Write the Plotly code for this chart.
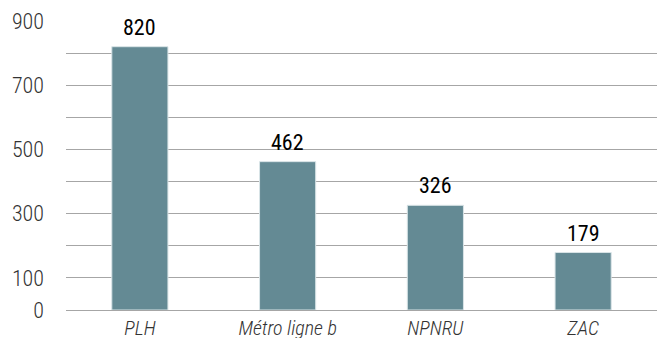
import plotly.graph_objects as go

categories = ["PLH", "Métro ligne b", "NPNRU", "ZAC"]
values = [820, 462, 326, 179]
grid_vals = [0, 100, 200, 300, 400, 500, 600, 700, 800, 900]
grid_text = ["0", "100", "", "300", "", "500", "", "700", "", "900"]

FONT = "Roboto Condensed, Liberation Sans Narrow, DejaVu Sans Condensed, Roboto, sans-serif"

fig = go.Figure(
    go.Bar(
        x=categories,
        y=values,
        marker=dict(color="#648a94", line=dict(color="#d9e4e7", width=1)),
        cliponaxis=False,
    )
)

# value labels above each bar
for cat, val in zip(categories, values):
    fig.add_annotation(
        x=cat,
        y=val,
        text=str(val),
        showarrow=False,
        yanchor="bottom",
        yshift=5,
        font=dict(family=FONT, size=22, color="#000000"),
    )

fig.update_layout(
    width=661,
    height=338,
    margin=dict(l=66, r=4, t=21, b=28),
    paper_bgcolor="white",
    plot_bgcolor="white",
    bargap=0.62,
    showlegend=False,
    font=dict(family=FONT),
)

fig.update_yaxes(
    range=[0, 900],
    tickvals=grid_vals,
    ticktext=grid_text,
    showgrid=True,
    gridcolor="#a6a6a6",
    gridwidth=1,
    zeroline=False,
    showline=False,
    ticks="",
    ticklabelstandoff=21,
    automargin=False,
    tickfont=dict(family=FONT, size=22, color="#333333", weight=300),
)

fig.update_xaxes(
    showline=True,
    linecolor="#a6a6a6",
    linewidth=1,
    ticks="",
    automargin=False,
    ticklabelstandoff=0,
    tickfont=dict(family=FONT, size=20, color="#333333", style="italic", weight=300),
)

fig.write_html("out.html")
